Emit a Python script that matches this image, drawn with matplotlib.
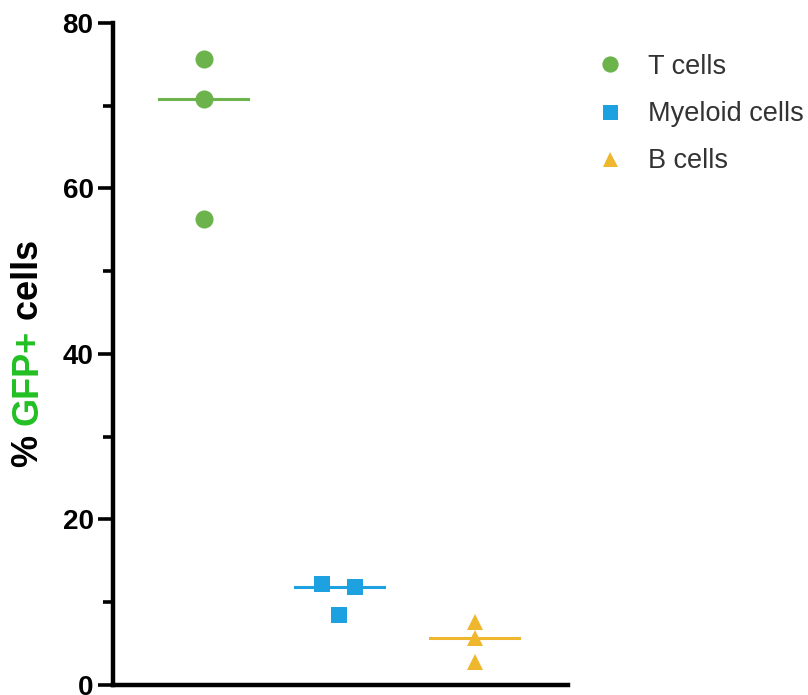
import matplotlib
matplotlib.use("Agg")
import matplotlib.pyplot as plt

plt.rcParams["font.family"] = ["Liberation Sans", "DejaVu Sans"]

# groups and individual values (% GFP+)
groups = ["T cells", "Myeloid cells", "B cells"]
x_pos = [1, 2, 3]
t_vals = [75.7, 70.8, 56.3]
t_offsets = [0.0, 0.0, 0.0]
my_vals = [12.2, 11.8, 8.5]
my_offsets = [-0.125, 0.12, 0.0]
b_vals = [7.6, 5.7, 2.8]
b_offsets = [0.0, 0.0, 0.0]
medians = [70.8, 11.8, 5.7]

colors = ["#6db34c", "#1da1e0", "#efb72e"]
markers = ["o", "s", "^"]
sizes = [13, 12, 12]

fig = plt.figure(figsize=(8.08, 6.95), dpi=100)
ax = fig.add_axes([0.1399, 0.0144, 0.7031 - 0.1399, 0.967 - 0.0144])

all_vals = [t_vals, my_vals, b_vals]
all_offs = [t_offsets, my_offsets, b_offsets]
for i in range(3):
    xs = [x_pos[i] + o for o in all_offs[i]]
    ax.plot(xs, all_vals[i], linestyle="none", marker=markers[i],
            markersize=sizes[i], color=colors[i], markeredgewidth=0,
            label=groups[i], zorder=3)
    ax.plot([x_pos[i] - 0.33, x_pos[i] + 0.33], [medians[i], medians[i]],
            color=colors[i], linewidth=2.2, zorder=2)

ax.set_xlim(0.33, 3.69)
ax.set_ylim(0, 80)
ax.set_yticks([0, 20, 40, 60, 80])
ax.set_yticks([10, 30, 50, 70], minor=True)
ax.set_xticks([])
ax.spines["top"].set_visible(False)
ax.spines["right"].set_visible(False)
ax.spines["left"].set_linewidth(3.2)
ax.spines["bottom"].set_linewidth(3.2)
ax.tick_params(axis="y", which="major", length=11, width=2.6, labelsize=20, pad=3)
ax.tick_params(axis="y", which="minor", length=7, width=2.6)
for lab in ax.get_yticklabels():
    lab.set_fontweight("bold")

leg = ax.legend(loc="upper left", bbox_to_anchor=(0.725, 0.938),
                bbox_transform=fig.transFigure, frameon=False, fontsize=19.5,
                handletextpad=0.9, labelspacing=0.78, handlelength=1.0,
                borderaxespad=0, markerscale=0.9)
for t in leg.get_texts():
    t.set_color("#333333")

# y label with coloured "GFP+"
fig.canvas.draw()
renderer = fig.canvas.get_renderer()
parts = [("% ", "black"), ("GFP+", "#22c023"), (" cells", "black")]
x_lab = 28 / 808
y_cur = (695 - 467) / 695
for s, c in parts:
    t = fig.text(x_lab, y_cur, s, rotation=90, color=c, fontsize=26,
                 fontweight="bold", ha="center", va="bottom")
    bb = t.get_window_extent(renderer=renderer)
    y_cur = y_cur + bb.height / fig.bbox.height

fig.savefig("out.png", dpi=100)
